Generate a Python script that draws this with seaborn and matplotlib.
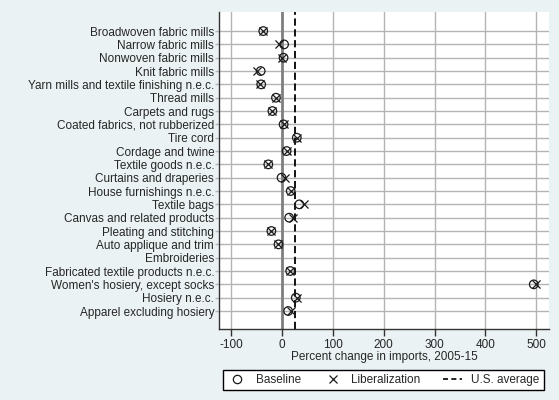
import numpy as np
import pandas as pd
import seaborn as sns
import matplotlib
matplotlib.use('Agg')
import matplotlib.pyplot as plt
from matplotlib.lines import Line2D

industries = ['Broadwoven fabric mills', 'Narrow fabric mills', 'Nonwoven fabric mills',
              'Knit fabric mills', 'Yarn mills and textile finishing n.e.c.', 'Thread mills',
              'Carpets and rugs', 'Coated fabrics, not rubberized', 'Tire cord',
              'Cordage and twine', 'Textile goods n.e.c.', 'Curtains and draperies',
              'House furnishings n.e.c.', 'Textile bags', 'Canvas and related products',
              'Pleating and stitching', 'Auto applique and trim', 'Embroideries',
              'Fabricated textile products n.e.c.', "Women's hosiery, except socks",
              'Hosiery n.e.c.', 'Apparel excluding hosiery']
baseline = [-37, 4, 3, -42, -41, -12, -19, 3, 29, 9, -27, -1, 17, 34, 14, -21, -7, np.nan,
            16, 495, 27, 12]
liberalization = [-37, -6, 0, -50, -44, -12, -19, 3, 29, 10, -27, 6, 17, 44, 21, -21, -7, np.nan,
                  16, 499, 29, 17]
us_average = 25

bg = '#EAF2F3'
sns.set_theme(style='white')
plt.rcParams['font.family'] = ['Liberation Sans', 'DejaVu Sans']
plt.rcParams['axes.unicode_minus'] = False
fs = 8.5

df = pd.DataFrame({'industry': industries, 'pos': np.arange(len(industries)),
                   'Baseline': baseline, 'Liberalization': liberalization})

fig = plt.figure(figsize=(5.59, 4.0), dpi=100, facecolor=bg)
ax = fig.add_axes([219/559, 1-329/400, 330/559, 317/400])
ax.set_facecolor('white')

# grid
for v in range(-100, 501, 100):
    ax.axvline(v, color='#b4b4b4', lw=1, zorder=0)
for p in df['pos']:
    ax.axhline(p, color='#b4b4b4', lw=1, zorder=0)
ax.axvline(0, color='#7f7f7f', lw=2, zorder=1)
ax.axvline(us_average, color='black', lw=1.3, ls=(0, (4, 2)), zorder=1)

sns.scatterplot(data=df, x='Baseline', y='pos', ax=ax, marker='o', s=38,
                facecolors='none', edgecolor='#1a1a1a', linewidth=0.9, zorder=3)
sns.scatterplot(data=df, x='Liberalization', y='pos', ax=ax, marker='x', s=34,
                color='#1a1a1a', linewidth=0.9, zorder=3)

ax.set_xlim(-124, 525)
ax.set_ylim(len(industries) - 1 + 1.35, -1.43)
ax.set_xticks(range(-100, 501, 100))
ax.set_yticks(df['pos'])
ax.set_yticklabels(industries)
ax.tick_params(axis='y', length=3, width=1, color='#b4b4b4', labelsize=fs, pad=0.5, left=True)
ax.tick_params(axis='x', length=5, width=1, color='#333333', labelsize=fs, pad=2, bottom=True)
ax.set_xlabel('Percent change in imports, 2005-15', fontsize=fs, labelpad=0)
ax.set_ylabel('')
for s in ['top', 'right']:
    ax.spines[s].set_visible(False)
for s in ['left', 'bottom']:
    ax.spines[s].set_color('#333333')
    ax.spines[s].set_linewidth(1)

handles = [Line2D([], [], marker='o', ls='none', mfc='none', mec='#1a1a1a', ms=6, mew=0.9),
           Line2D([], [], marker='x', ls='none', color='#1a1a1a', ms=6, mew=0.9),
           Line2D([], [], color='black', ls=(0, (3, 2)), lw=1.2)]
leg = fig.legend(handles, ['Baseline', 'Liberalization', 'U.S. average'], ncol=3,
                 loc='center', bbox_to_anchor=(383.5/559, 1-380/400), fontsize=fs,
                 frameon=True, fancybox=False, edgecolor='black', facecolor='white',
                 framealpha=1, borderpad=0.35, columnspacing=1.9, handlelength=1.6,
                 handletextpad=0.8, borderaxespad=0)
leg.get_frame().set_linewidth(1)

fig.savefig('out.png', dpi=100, facecolor=bg)
